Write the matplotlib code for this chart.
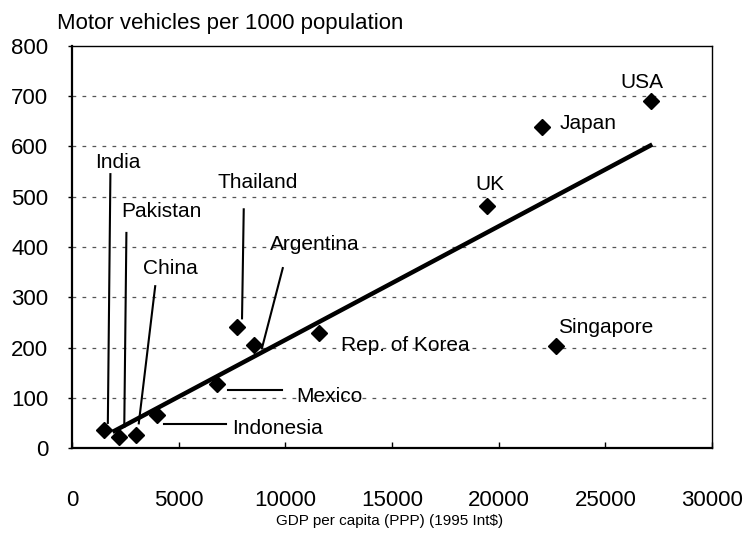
import matplotlib
matplotlib.use("Agg")
import matplotlib.pyplot as plt

plt.rcParams['font.family'] = ['Liberation Sans', 'DejaVu Sans']

# Data
countries = ["India", "Pakistan", "China", "Indonesia", "Mexico", "Thailand",
             "Argentina", "Rep. of Korea", "UK", "Japan", "USA", "Singapore"]
gdp = [1500, 2200, 3000, 4000, 6800, 7750, 8550, 11600, 19450, 22050, 27150, 22700]
vehicles = [35, 22, 25, 66, 128, 240, 205, 228, 482, 638, 690, 202]

trend_x = [1900, 27200]
trend_y = [32, 604]

x_ticks = [0, 5000, 10000, 15000, 20000, 25000, 30000]
y_ticks = [0, 100, 200, 300, 400, 500, 600, 700, 800]

# label positions (data coords) and leader lines
labels = {
    "India":        dict(xy=(2150, 568), ha="center"),
    "Pakistan":     dict(xy=(4200, 470), ha="center"),
    "China":        dict(xy=(4600, 357), ha="center"),
    "Thailand":     dict(xy=(8700, 528), ha="center"),
    "Argentina":    dict(xy=(11400, 405), ha="center"),
    "Mexico":       dict(xy=(10500, 103), ha="left"),
    "Indonesia":    dict(xy=(7500, 38), ha="left"),
    "Rep. of Korea": dict(xy=(12600, 204), ha="left"),
    "UK":           dict(xy=(19600, 525), ha="center"),
    "Japan":        dict(xy=(22850, 645), ha="left"),
    "USA":          dict(xy=(26700, 728), ha="center"),
    "Singapore":    dict(xy=(22800, 240), ha="left"),
}
leaders = {
    "India":     ((1800, 545), (1680, 50)),
    "Pakistan":  ((2550, 428), (2450, 42)),
    "China":     ((3900, 322), (3130, 49)),
    "Thailand":  ((8050, 475), (7970, 258)),
    "Argentina": ((9880, 358), (8900, 198)),
    "Mexico":    ((7300, 116), (9850, 116)),
    "Indonesia": ((4300, 48), (7220, 48)),
}

fig = plt.figure(figsize=(7.48, 5.34), dpi=100)
ax = fig.add_axes([72/748, 1-448/534, (712-72)/748, (448-46)/534])

ax.set_xlim(0, 30000)
ax.set_ylim(0, 800)

for y in y_ticks[1:-1]:
    ax.axhline(y, color="#555555", lw=0.9, linestyle=(0, (3, 5)), zorder=1)

ax.plot(trend_x, trend_y, color="black", lw=3.2, solid_capstyle="butt", zorder=3)
ax.plot(gdp, vehicles, linestyle="none", marker="D", color="black", ms=8.5, zorder=4)

for name, (p0, p1) in leaders.items():
    ax.plot([p0[0], p1[0]], [p0[1], p1[1]], color="black", lw=1.5, zorder=2)

for name, d in labels.items():
    ax.text(d["xy"][0], d["xy"][1], name, ha=d["ha"], va="center",
            fontsize=15, color="black", zorder=5)

ax.set_xticks(x_ticks)
ax.set_yticks(y_ticks)
ax.set_xticklabels([str(v) for v in x_ticks], fontsize=16)
ax.set_yticklabels([str(v) for v in y_ticks], fontsize=16)
ax.tick_params(axis="x", direction="in", length=4, pad=30, width=1)
ax.tick_params(axis="y", direction="out", length=3, pad=14, width=1)

for side in ["left", "bottom"]:
    ax.spines[side].set_linewidth(1.6)
for side in ["top", "right"]:
    ax.spines[side].set_linewidth(1.0)

fig.text(57/748, 1-24/534, "Motor vehicles per 1000 population", fontsize=16,
         ha="left", va="center")
fig.text(390/748, 1-521/534, "GDP per capita (PPP) (1995 Int$)", fontsize=11,
         ha="center", va="center")

fig.savefig("out.png", dpi=100)
